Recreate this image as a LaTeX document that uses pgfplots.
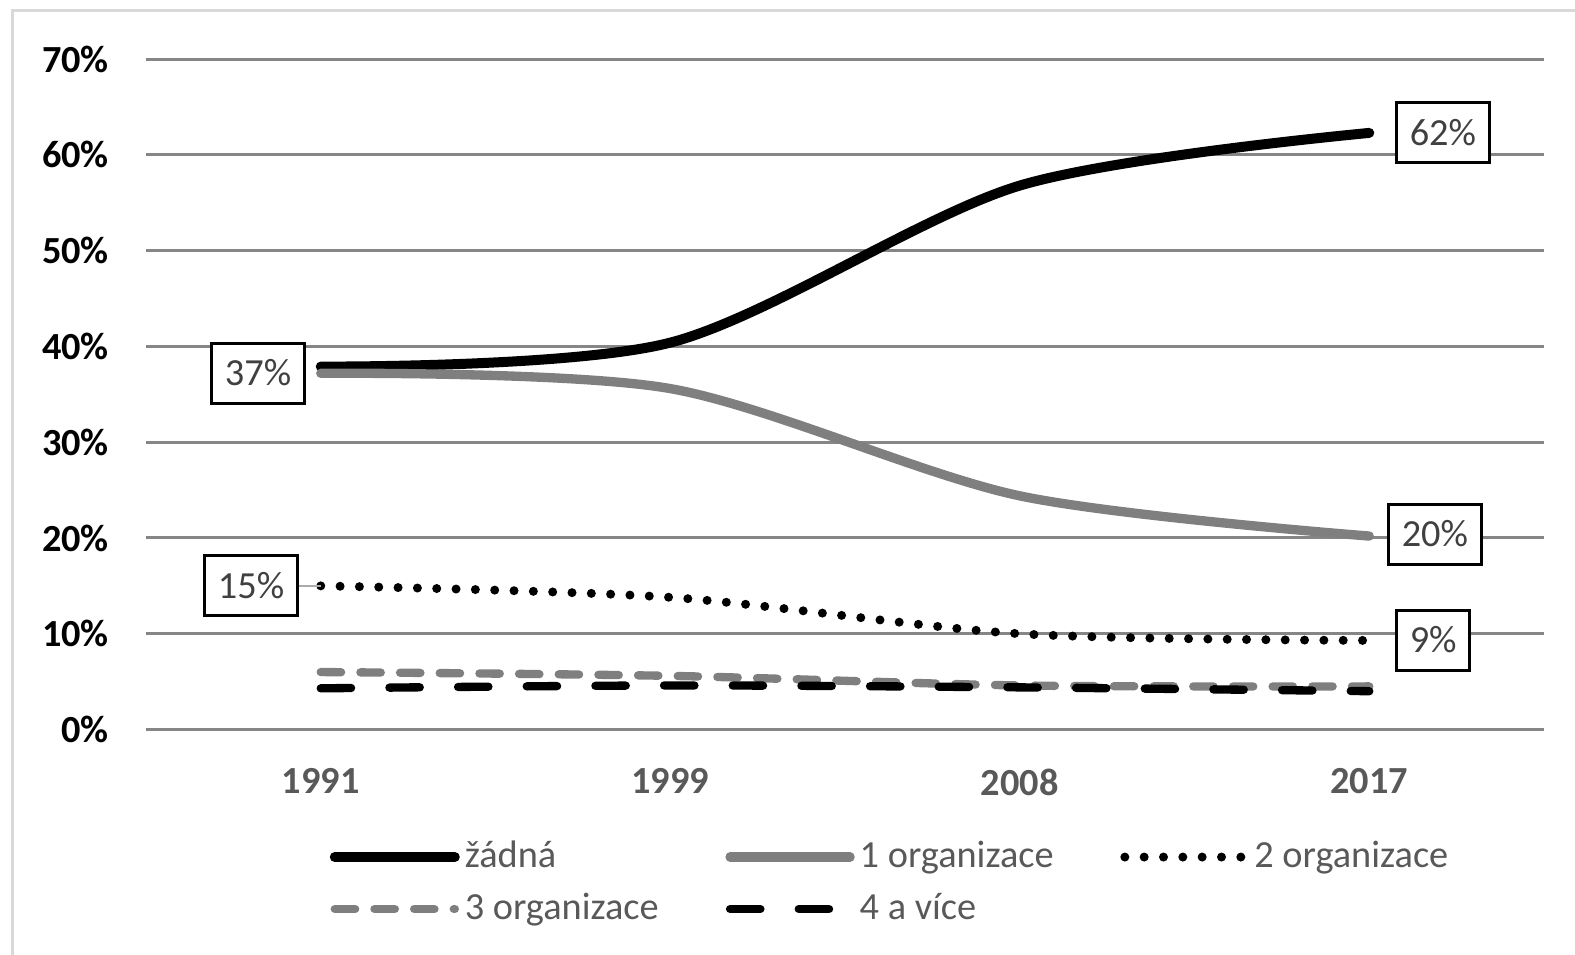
\documentclass[border=0pt]{standalone}
\usepackage{fontspec}
\setmainfont{Carlito}
\usepackage{pgfplots}
\pgfplotsset{compat=1.18}

\definecolor{gridc}{HTML}{868686}
\definecolor{sgray}{HTML}{7F7F7F}
\definecolor{txtgray}{HTML}{595959}
\definecolor{lbltxt}{HTML}{404040}
\definecolor{framec}{HTML}{D9D9D9}

\newcommand{\chfont}{\fontsize{11.5}{13.8}\selectfont}

\tikzset{
  lbl/.style={draw=black, line width=0.9pt, fill=white, text=lbltxt,
    font=\chfont, inner xsep=3.9pt, inner ysep=5.3pt,
    text height=7.4pt, text depth=0pt}
}

\begin{document}
\begin{tikzpicture}
\useasboundingbox (0,0) rectangle (472.5pt,286.2pt);
\draw[framec, line width=0.9pt] (3.6pt,-5pt) -- (3.6pt,282.9pt) -- (480pt,282.9pt);

\begin{axis}[
  at={(43.8pt,67.35pt)}, anchor=south west,
  scale only axis,
  width=419.4pt, height=201.1pt,
  xmin=-0.5, xmax=3.5,
  ymin=0, ymax=70,
  xtick={0,1,2,3},
  xticklabels={1991,1999,2008,2017},
  ytick={0,10,20,30,40,50,60,70},
  yticklabels={0\%,10\%,20\%,30\%,40\%,50\%,60\%,70\%},
  axis line style={draw=none},
  major tick length=0pt,
  ymajorgrids,
  major grid style={line width=0.9pt, color=gridc},
  xticklabel style={font=\chfont\bfseries, text=txtgray, yshift=-8.2pt},
  yticklabel style={font=\chfont\bfseries, text=black, xshift=-7.6pt},
  clip=false,
  legend image code/.code={\draw[#1] (0pt,0pt) -- (36pt,0pt);},
  legend style={
    at={(0.131,-0.152)}, anchor=north west,
    draw=none, fill=none, inner sep=0pt,
    legend columns=3,
    column sep=0pt, row sep=0.6pt,
    /tikz/every even column/.append style={column sep=18.5pt},
    nodes={inner xsep=1.5pt, inner ysep=2pt, text height=8.5pt,
      text depth=2.5pt, font=\chfont, text=txtgray},
  },
  legend cell align=left,
]
% zadna
\addplot[black, line width=3pt, line cap=round, smooth] coordinates {
  (0,37.9) (1,40.4) (2,56.8) (3,62.3)};
% 1 organizace
\addplot[sgray, line width=2.8pt, line cap=round, smooth] coordinates {
  (0,37.2) (1,35.6) (2,24.4) (3,20.2)};
% 2 organizace
\addplot[black, line width=2.7pt, line cap=round, dash pattern=on 0pt off 5.8pt, smooth] coordinates {
  (0,15.0) (1,13.8) (2,10.0) (3,9.3)};
% 3 organizace
\addplot[sgray, line width=2.5pt, line cap=round, dash pattern=on 6.1pt off 5.8pt, smooth] coordinates {
  (0,6.0) (1,5.6) (2,4.6) (3,4.5)};
% 4 a vice
\addplot[black, line width=2.5pt, line cap=round, dash pattern=on 9.1pt off 11.5pt, smooth] coordinates {
  (0,4.3) (1,4.6) (2,4.4) (3,4.0)};

\legend{žádná, 1 organizace, 2 organizace, 3 organizace, 4 a více}

% data labels
\node[lbl, anchor=east, xshift=-4.5pt] at (axis cs:0,37.2) {37\%};
\node[lbl, anchor=east, xshift=-6.6pt] (l15) at (axis cs:0,15.0) {15\%};
\draw[gridc!70, line width=0.6pt] (l15.east) -- (axis cs:0,15.0);
\node[lbl, anchor=west, xshift=7.8pt] at (axis cs:3,62.3) {62\%};
\node[lbl, anchor=west, xshift=5.4pt] at (axis cs:3,20.4) {20\%};
\node[lbl, anchor=west, xshift=7.8pt] at (axis cs:3,9.3) {9\%};
\end{axis}
\end{tikzpicture}
\end{document}
